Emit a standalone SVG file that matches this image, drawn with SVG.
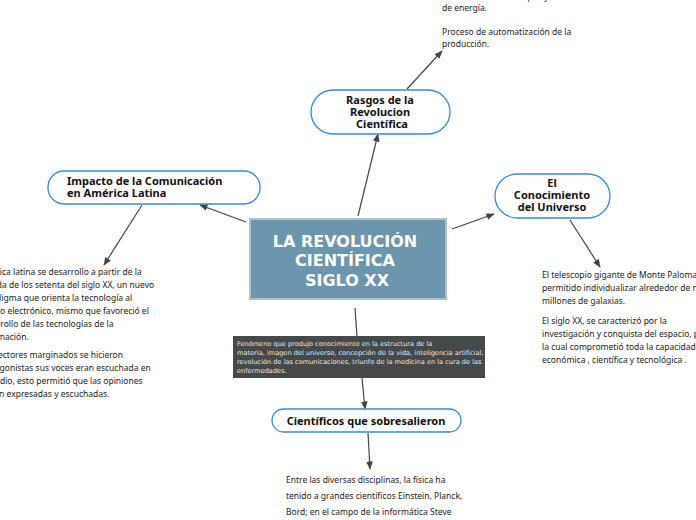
<svg xmlns="http://www.w3.org/2000/svg" width="696" height="520" viewBox="0 0 696 520">
<style>
.n{fill:#fff;stroke:#3a8ad0;stroke-width:1.3}
.t{font-family:"Noto Sans","DejaVu Sans",sans-serif;font-size:11px;font-weight:bold;fill:#111}
.b{font-family:"Noto Sans","DejaVu Sans",sans-serif;font-size:8.5px;fill:#222}
.c{stroke:#444;stroke-width:1.2;fill:none;marker-end:url(#a)}
</style>
<defs><marker id="a" viewBox="0 0 10 10" refX="9" refY="5" markerWidth="7" markerHeight="7" orient="auto"><path d="M0,1L10,5L0,9z" fill="#444"/></marker></defs>
<rect width="696" height="520" fill="#fff"/>
<g id="connectors">
<path class="c" d="M358,216L378,134"/>
<path class="c" d="M246,222L200,205"/>
<path class="c" d="M452,229L494,214"/>
<path d="M355,308L357,336" stroke="#444" stroke-width="1.2"/>
<path class="c" d="M362,378L365,409"/>
<path class="c" d="M407,89L442,51"/>
<path class="c" d="M142,205L104,265"/>
<path class="c" d="M570,220L600,267"/>
<path class="c" d="M368,433L370,469"/>
</g>
<g id="center">
<rect x="250" y="219" width="196" height="80" fill="#6b96ad" stroke="#a9c3d1" stroke-width="2"/>
<g font-family="'DejaVu Sans',sans-serif" font-size="16" font-weight="bold" fill="#fff" text-anchor="middle">
<text x="345" y="247">LA REVOLUCIÓN</text><text x="345" y="266">CIENTÍFICA</text><text x="347" y="286">SIGLO XX</text></g>
</g>
<g id="desc">
<rect x="233" y="336" width="252" height="42" fill="#46494a"/>
<g font-family="'DejaVu Sans',sans-serif" font-size="6.6" fill="#e6e6e6">
<text x="237" y="346">Fenómeno que produjo conocimiento en la estructura de la</text>
<text x="237" y="355">materia, imagen del universo, concepción de la vida, inteligencia artificial,</text>
<text x="237" y="364">revolución de las comunicaciones, triunfo de la medicina en la cura de las</text>
<text x="237" y="373">enfermedades.</text></g>
</g>
<g id="rasgos">
<rect class="n" x="311" y="90" width="139" height="44" rx="22"/>
<text class="t" text-anchor="middle"><tspan x="380" y="104">Rasgos de la</tspan><tspan x="380" y="116">Revolucion</tspan><tspan x="382" y="128">Científica</tspan></text>
<text class="b"><tspan x="442" y="0">Creación de nuevos tipos y fuentes</tspan><tspan x="442" y="11">de energía.</tspan><tspan x="442" y="35">Proceso de automatización de la</tspan><tspan x="442" y="47">producción.</tspan></text>
</g>
<g id="impacto">
<rect class="n" x="48" y="171" width="212" height="33" rx="16"/>
<text class="t"><tspan x="67" y="185">Impacto de la Comunicación</tspan><tspan x="67" y="197">en América Latina</tspan></text>
<text class="b"><tspan x="-22" y="275">América latina se desarrollo a partir de la</tspan><tspan x="-22" y="288">década de los setenta del siglo XX, un nuevo</tspan><tspan x="-22" y="301">paradigma que orienta la tecnología al</tspan><tspan x="-22" y="314">campo electrónico, mismo que favoreció el</tspan><tspan x="-22" y="327">desarrollo de las tecnologías de la</tspan><tspan x="-22" y="340">información.</tspan><tspan x="-22" y="358">Los sectores marginados se hicieron</tspan><tspan x="-22" y="371">protagonistas sus voces eran escuchada en</tspan><tspan x="-22" y="384">el medio, esto permitió que las opiniones</tspan><tspan x="-22" y="397">fueran expresadas y escuchadas.</tspan></text>
</g>
<g id="conocimiento">
<rect class="n" x="495" y="174" width="115" height="44" rx="22"/>
<text class="t" text-anchor="middle"><tspan x="552" y="187">El</tspan><tspan x="552" y="199">Conocimiento</tspan><tspan x="552" y="211">del Universo</tspan></text>
<text class="b"><tspan x="542" y="278">El telescopio gigante de Monte Palomar ha</tspan><tspan x="542" y="291">permitido individualizar alrededor de mil</tspan><tspan x="542" y="304">millones de galaxias.</tspan><tspan x="542" y="324">El siglo XX, se caracterizó por la</tspan><tspan x="542" y="337">investigación y conquista del espacio, para</tspan><tspan x="542" y="350">la cual comprometió toda la capacidad</tspan><tspan x="542" y="363">económica , científica y tecnológica .</tspan></text>
</g>
<g id="cientificos">
<rect class="n" x="272" y="409" width="189" height="23" rx="11.5"/>
<text class="t" x="366" y="425" text-anchor="middle">Científicos que sobresalieron</text>
<text class="b"><tspan x="286" y="483">Entre las diversas disciplinas, la física ha</tspan><tspan x="286" y="499">tenido a grandes científicos Einstein, Planck,</tspan><tspan x="286" y="515">Bord; en el campo de la informática Steve</tspan><tspan x="286" y="527">Jobs, Bill Gates; en medicina Alexander</tspan></text>
</g>
</svg>
